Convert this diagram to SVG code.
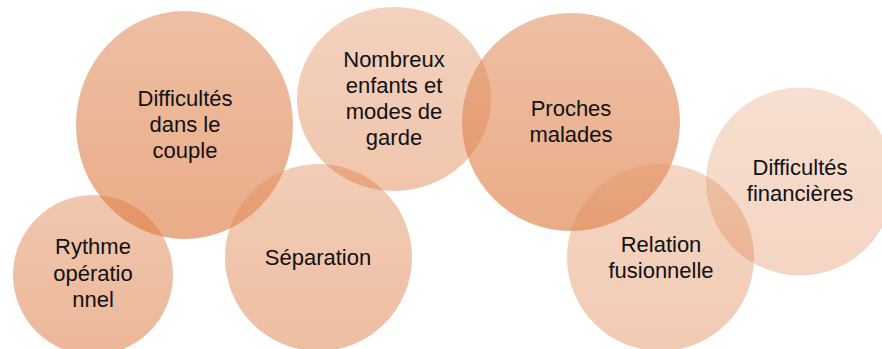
<svg xmlns="http://www.w3.org/2000/svg" width="882" height="349" viewBox="0 0 882 349">
<defs>
<linearGradient id="g" x1="0" y1="0" x2="0" y2="1">
<stop offset="0" stop-color="rgb(226,148,102)"/>
<stop offset="1" stop-color="rgb(220,116,56)"/>
</linearGradient>
<style>
circle,ellipse{fill:url(#g);stroke:none}
text{font-family:"Liberation Sans",Arial,sans-serif;font-size:22px;fill:#111;text-anchor:middle}
</style>
</defs>
<rect width="882" height="349" fill="#fff"/>
<g id="node-rythme">
<circle cx="93" cy="275" r="80" fill-opacity="0.52"/>
<text x="93" y="254">Rythme</text>
<text x="93" y="281">opératio</text>
<text x="93" y="307">nnel</text>
</g>
<g id="node-couple">
<ellipse cx="184.5" cy="125" rx="108.5" ry="114" fill-opacity="0.6"/>
<text x="185" y="106">Difficultés</text>
<text x="185" y="132">dans le</text>
<text x="185" y="158">couple</text>
</g>
<g id="node-separation">
<circle cx="318.5" cy="257.5" r="93.5" fill-opacity="0.47"/>
<text x="318" y="265">Séparation</text>
</g>
<g id="node-nombreux">
<ellipse cx="394" cy="99" rx="97" ry="92" fill-opacity="0.42"/>
<text x="394" y="67">Nombreux</text>
<text x="394" y="93">enfants et</text>
<text x="394" y="119">modes de</text>
<text x="394" y="145">garde</text>
</g>
<g id="node-proches">
<circle cx="571" cy="122" r="109" fill-opacity="0.6"/>
<text x="571" y="116">Proches</text>
<text x="571" y="142">malades</text>
</g>
<g id="node-relation">
<circle cx="660.5" cy="257.5" r="93.5" fill-opacity="0.38"/>
<text x="661" y="252">Relation</text>
<text x="661" y="278">fusionnelle</text>
</g>
<g id="node-financieres">
<circle cx="800" cy="181.5" r="94" fill-opacity="0.3"/>
<text x="800" y="175">Difficultés</text>
<text x="800" y="201">financières</text>
</g>
<g id="connectors"></g>
</svg>
